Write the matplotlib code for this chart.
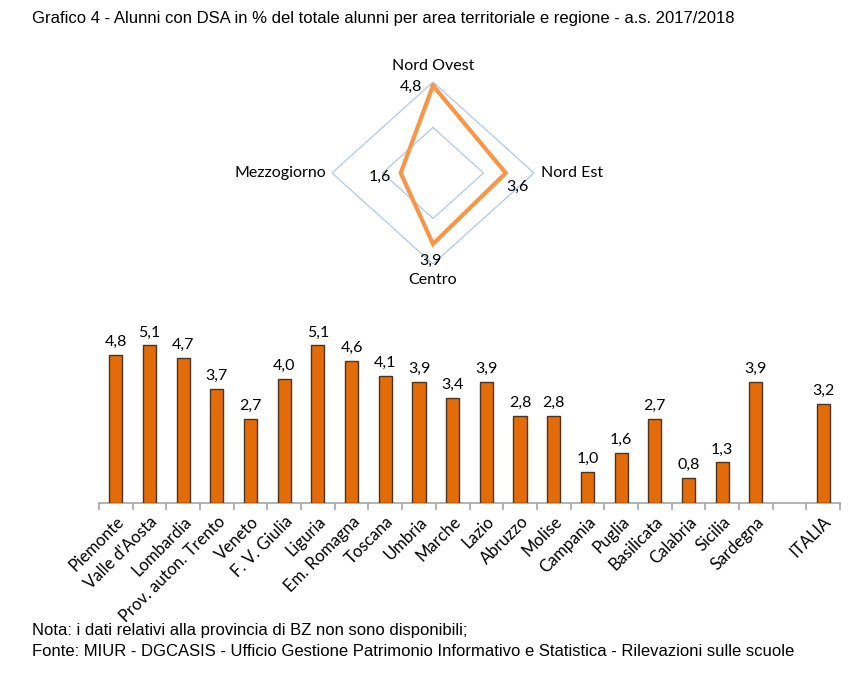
import numpy as np
import matplotlib
matplotlib.use('Agg')
import matplotlib.pyplot as plt

# radar data
areas = ['Nord Ovest', 'Nord Est', 'Centro', 'Mezzogiorno']
area_vals = [4.8, 3.6, 3.9, 1.6]

# bar data
regions = ['Piemonte', "Valle d'Aosta", 'Lombardia', 'Prov. auton. Trento', 'Veneto',
           'F. V. Giulia', 'Liguria', 'Em. Romagna', 'Toscana', 'Umbria', 'Marche',
           'Lazio', 'Abruzzo', 'Molise', 'Campania', 'Puglia', 'Basilicata', 'Calabria',
           'Sicilia', 'Sardegna', '', 'ITALIA']
region_vals = [4.8, 5.1, 4.7, 3.7, 2.7, 4.0, 5.1, 4.6, 4.1, 3.9, 3.4,
               3.9, 2.8, 2.8, 1.0, 1.6, 2.7, 0.8, 1.3, 3.9, np.nan, 3.2]

W, H = 864, 679
fig = plt.figure(figsize=(W / 100, H / 100), dpi=100)
calibri = ['Lato', 'DejaVu Sans']
arial = 'Liberation Sans'

def fmt(v):
    return ('%.1f' % v).replace('.', ',')

fig.text(32 / W, 1 - 18 / H, 'Grafico 4 - Alunni con DSA in % del totale alunni per area territoriale e regione - a.s. 2017/2018',
         fontsize=12, family=arial, va='center', ha='left')
fig.text(32 / W, 1 - 630 / H, 'Nota: i dati relativi alla provincia di BZ non sono disponibili;',
         fontsize=12, family=arial, va='center', ha='left')
fig.text(32 / W, 1 - 652 / H, 'Fonte: MIUR - DGCASIS - Ufficio Gestione Patrimonio Informativo e Statistica - Rilevazioni sulle scuole',
         fontsize=12, family=arial, va='center', ha='left')

# ---- radar (plain axes so the diamond can be a bit squashed like the original)
cx, cy, rx, ry = 433, 173, 101, 91
rmax = 5.0
axr = fig.add_axes([(cx - rx) / W, 1 - (cy + ry) / H, 2 * rx / W, 2 * ry / H])
axr.set_xlim(-rmax, rmax)
axr.set_ylim(-rmax, rmax)
axr.axis('off')
ang = np.arange(len(areas)) * np.pi / 2
for g in [2.5, 5.0]:
    gx = np.append(g * np.sin(ang), g * np.sin(ang[0]))
    gy = np.append(g * np.cos(ang), g * np.cos(ang[0]))
    axr.plot(gx, gy, color='#b4c7e7', lw=0.9, zorder=1)
vx = np.array(area_vals) * np.sin(ang)
vy = np.array(area_vals) * np.cos(ang)
axr.plot(np.append(vx, vx[0]), np.append(vy, vy[0]), color='#f79646', lw=3,
         solid_joinstyle='miter', zorder=3, clip_on=False)

name_off = [(0, 16, 'center'), (7, 0, 'left'), (0, -16, 'center'), (-6, 0, 'right')]
for i, a in enumerate(areas):
    ox, oy, ha = name_off[i]
    axr.annotate(a, (5.0 * np.sin(ang[i]), 5.0 * np.cos(ang[i])), xytext=(ox, oy),
                 textcoords='offset pixels', ha=ha, va='center',
                 fontsize=11.5, family=calibri, annotation_clip=False)
val_off = [(-22, -1), (12, -14), (-3, -17), (-21, -4)]
for i, v in enumerate(area_vals):
    ox, oy = val_off[i]
    axr.annotate(fmt(v), (vx[i], vy[i]), xytext=(ox, oy), textcoords='offset pixels',
                 ha='center', va='center', fontsize=11.5, family=calibri,
                 annotation_clip=False)

# ---- bars
x0, x1, base = 99, 840, 502.5
ppu = 30.8
ymax = 5.6
top = base - ymax * ppu
ax = fig.add_axes([x0 / W, 1 - base / H, (x1 - x0) / W, (base - top) / H])
x = np.arange(len(regions))
ax.bar(x, region_vals, width=0.39, color='#e36c09', edgecolor='#4a3320', linewidth=1.0, zorder=3)
for xi, v in zip(x, region_vals):
    if not np.isnan(v):
        ax.annotate(fmt(v), (xi, v), xytext=(0, 6), textcoords='offset pixels',
                    ha='center', va='bottom', fontsize=11.5, family=calibri)
ax.set_xlim(-0.5, len(regions) - 0.5)
ax.set_ylim(0, ymax)
for s in ['top', 'right', 'left']:
    ax.spines[s].set_visible(False)
ax.spines['bottom'].set_color('#a6a6a6')
ax.spines['bottom'].set_linewidth(1.2)
ax.set_yticks([])
ax.set_xticks(x)
ax.set_xticklabels(regions, rotation=45, ha='right', rotation_mode='anchor',
                   fontsize=12, family=calibri)
ax.tick_params(axis='x', which='major', length=0, pad=8)
ax.set_xticks(np.arange(len(regions) + 1) - 0.5, minor=True)
ax.tick_params(axis='x', which='minor', length=5, color='#a6a6a6', width=1.2)

fig.savefig('out.png', dpi=100)
